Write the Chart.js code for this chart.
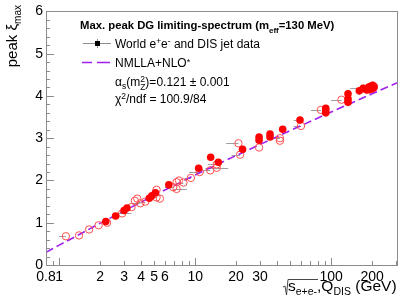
<!DOCTYPE html>
<html><head><meta charset="utf-8">
<script src="https://cdn.jsdelivr.net/npm/chart.js@4/dist/chart.umd.min.js"></script>
<style>html,body{margin:0;padding:0;background:#fff}canvas{display:block}</style>
</head><body>
<canvas id="c" width="409" height="300" style="width:409px;height:300px"></canvas>
<script>
// ---- data ----
const xTickLabels = [0.8, 1, 2, 3, 4, 5, 6, 10, 20, 30, 100, 200];
const yTickValues = [0, 1, 2, 3, 4, 5, 6];

// NMLLA+NLO* fit curve
const fitX = [0.8, 1, 1.5, 2, 3, 5, 10, 20, 50, 100, 200, 310];
const fitY = [0.30, 0.47, 0.77, 0.99, 1.28, 1.65, 2.13, 2.59, 3.18, 3.62, 4.05, 4.32];

// e+e- data (filled)
const eeX   = [2.2, 2.6, 3.0, 3.15, 4.6, 4.8, 5.1, 6.4, 10.6, 13.0, 14.8, 22.3, 29.5, 29.5, 35.5, 35.5, 44, 59, 91.2, 91.2, 91.2, 133, 133, 133, 161, 172, 183, 189, 192, 196, 200, 202, 205, 207];
const eeY   = [1.03, 1.16, 1.29, 1.35, 1.58, 1.64, 1.71, 1.90, 2.29, 2.55, 2.43, 2.74, 3.03, 2.95, 3.10, 3.03, 3.21, 3.43, 3.71, 3.65, 3.60, 4.05, 3.93, 3.85, 4.12, 4.18, 4.14, 4.21, 4.15, 4.23, 4.17, 4.25, 4.19, 4.22];
const eeYerr= [0.04, 0.04, 0.04, 0.04, 0.05, 0.05, 0.05, 0.05, 0.06, 0.06, 0.06, 0.07, 0.07, 0.07, 0.07, 0.07, 0.08, 0.08, 0.06, 0.06, 0.06, 0.1, 0.1, 0.1, 0.1, 0.1, 0.1, 0.1, 0.1, 0.1, 0.1, 0.1, 0.1, 0.1];
const eeXlo = [2.2, 2.6, 3.0, 3.15, 4.6, 4.8, 5.1, 6.4, 10.6, 13.0, 14.8, 22.3, 29.5, 29.5, 35.5, 35.5, 44, 53, 91.2, 91.2, 91.2, 133, 133, 133, 161, 138, 183, 189, 192, 196, 200, 202, 205, 207];

// DIS data (open)
const disX  = [1.12, 1.40, 1.66, 1.95, 2.25, 2.9, 3.4, 3.6, 3.75, 3.95, 4.3, 5.2, 5.2, 5.5, 6.9, 7.3, 7.3, 7.6, 8.2, 9.3, 10.8, 12.9, 14.4, 14.4, 20.8, 21.4, 29.5, 42, 42, 60, 84, 119];
const disY  = [0.68, 0.70, 0.84, 0.94, 1.00, 1.22, 1.37, 1.52, 1.57, 1.46, 1.50, 1.78, 1.60, 1.57, 1.84, 1.96, 1.80, 2.00, 1.95, 2.06, 2.20, 2.24, 2.38, 2.30, 2.88, 2.61, 2.78, 3.00, 2.94, 3.29, 3.67, 3.91];
const disXlo= [1.0, 1.40, 1.66, 1.95, 2.25, 2.5, 3.0, 3.6, 3.75, 3.4, 3.7, 5.2, 4.5, 5.5, 6.0, 7.3, 6.9, 7.6, 7.2, 8.4, 9.0, 11.0, 12.4, 11.9, 16.9, 18.5, 29.5, 37, 42, 53, 71, 100];
const disXhi= [1.12, 1.40, 1.66, 1.95, 2.25, 3.4, 3.4, 3.6, 3.75, 3.95, 4.3, 5.2, 5.2, 5.5, 6.9, 7.3, 8.7, 7.6, 8.2, 9.3, 10.8, 12.9, 14.4, 17.5, 20.8, 21.4, 29.5, 42, 42, 60, 84, 119];

const FONT = "'Liberation Sans', Arial, Helvetica, sans-serif";
const FIT_COLOR = '#a020f0';

function richText(ctx, segs, x, y, align) {
  let w = 0;
  segs.forEach(s => { ctx.font = (s.b ? 'bold ' : '') + s.s + 'px ' + FONT; s.w = ctx.measureText(s.t).width; if (s.adv !== false) w += s.w; });
  let cx = align === 'right' ? x - w : x;
  ctx.textAlign = 'left';
  ctx.textBaseline = 'alphabetic';
  segs.forEach(s => {
    ctx.font = (s.b ? 'bold ' : '') + s.s + 'px ' + FONT;
    ctx.fillText(s.t, cx, y + (s.dy || 0));
    if (s.adv !== false) cx += s.w;
  });
  return w;
}

const decor = {
  id: 'decor',
  beforeDatasetsDraw(chart) {
    const ctx = chart.ctx, xs = chart.scales.x, ys = chart.scales.y;
    ctx.save();
    ctx.strokeStyle = '#a0a0a0';
    ctx.lineWidth = 1;
    ctx.beginPath();
    eeX.forEach((x, i) => {
      const px = xs.getPixelForValue(x);
      ctx.moveTo(px, ys.getPixelForValue(eeY[i] - eeYerr[i]));
      ctx.lineTo(px, ys.getPixelForValue(eeY[i] + eeYerr[i]));
      if (eeXlo[i] < x) {
        const py = Math.round(ys.getPixelForValue(eeY[i])) + 0.5;
        ctx.moveTo(xs.getPixelForValue(eeXlo[i]), py);
        ctx.lineTo(px, py);
      }
    });
    disX.forEach((x, i) => {
      const py = Math.round(ys.getPixelForValue(disY[i])) + 0.5;
      if (disXlo[i] < disXhi[i]) {
        ctx.moveTo(xs.getPixelForValue(disXlo[i]), py);
        ctx.lineTo(xs.getPixelForValue(disXhi[i]), py);
      }
    });
    ctx.stroke();
    ctx.restore();
  },
  afterDraw(chart) {
    const ctx = chart.ctx, a = chart.chartArea, xs = chart.scales.x, ys = chart.scales.y;
    ctx.save();
    // frame
    ctx.strokeStyle = '#8c8c8c';
    ctx.lineWidth = 1;
    ctx.strokeRect(Math.round(a.left) + 0.5, Math.round(a.top) + 0.5, Math.round(a.right - a.left) - 1, Math.round(a.bottom - a.top));
    // y ticks (inward)
    ctx.beginPath();
    for (let v = 0; v <= 6.001; v += 0.2) {
      const py = Math.round(ys.getPixelForValue(v)) + 0.5;
      const major = Math.abs(v - Math.round(v)) < 1e-6;
      ctx.moveTo(a.left, py);
      ctx.lineTo(a.left + (major ? 8 : 4), py);
    }
    // x ticks (inward)
    [0.1, 1, 10, 100].forEach(d => {
      for (let k = 1; k <= 9; k++) {
        const v = d * k;
        if (v < xs.min || v > xs.max * 0.98) continue;
        const px = Math.round(xs.getPixelForValue(v)) + 0.5;
        const major = k === 1;
        ctx.moveTo(px, a.bottom);
        ctx.lineTo(px, a.bottom - (major ? 7 : 4));
      }
    });
    ctx.stroke();

    ctx.fillStyle = '#000';
    // header
    richText(ctx, [
      {t: 'Max. peak DG limiting-spectrum (m', s: 11.3, b: true},
      {t: 'eff', s: 8, b: true, dy: 4},
      {t: '=130 MeV)', s: 11.3, b: true}
    ], 80, 29, 'left');
    // legend entry 1 marker
    ctx.strokeStyle = '#909090';
    ctx.beginPath();
    ctx.moveTo(83, 43.5); ctx.lineTo(111, 43.5);
    ctx.moveTo(97.5, 39); ctx.lineTo(97.5, 48);
    ctx.stroke();
    ctx.fillStyle = '#000';
    ctx.fillRect(95, 41, 5, 5);
    richText(ctx, [
      {t: 'World e', s: 12}, {t: '+', s: 8.5, dy: -4}, {t: 'e', s: 12}, {t: '-', s: 8.5, dy: -4},
      {t: ' and DIS jet data', s: 12}
    ], 115, 47.5, 'left');
    // legend entry 2 marker
    ctx.strokeStyle = FIT_COLOR;
    ctx.lineWidth = 1.6;
    ctx.beginPath();
    ctx.moveTo(82, 62.5); ctx.lineTo(92, 62.5);
    ctx.moveTo(97, 62.5); ctx.lineTo(110, 62.5);
    ctx.stroke();
    richText(ctx, [{t: 'NMLLA+NLO', s: 12}, {t: '*', s: 9, dy: -2}], 115, 66.5, 'left');
    richText(ctx, [
      {t: 'α', s: 12}, {t: 's', s: 8.5, dy: 3}, {t: '(m', s: 12},
      {t: '2', s: 8.5, dy: -4, adv: false}, {t: 'Z', s: 8.5, dy: 4},
      {t: ')=0.121 ± 0.001', s: 12}
    ], 115, 85.5, 'left');
    richText(ctx, [{t: 'χ', s: 12}, {t: '2', s: 8.5, dy: -4}, {t: '/ndf = 100.9/84', s: 12}], 115, 102.5, 'left');

    // y title (rotated)
    ctx.save();
    ctx.translate(17, 5);
    ctx.rotate(-Math.PI / 2);
    richText(ctx, [{t: 'peak ξ', s: 15}, {t: 'max', s: 10, dy: 4}], 0, 0, 'right');
    ctx.restore();

    // x title
    const x0 = 283, base = 291;
    const w1 = richText(ctx, [{t: 's', s: 15.5}, {t: 'e+e-', s: 10.5, dy: 4}], x0 + 5, base, 'left');
    ctx.strokeStyle = '#333';
    ctx.lineWidth = 0.9;
    ctx.beginPath();
    ctx.moveTo(x0, 287); ctx.lineTo(x0 + 2, 286); ctx.lineTo(x0 + 3.5, 295); ctx.lineTo(x0 + 5, 279.5); ctx.lineTo(x0 + 5 + w1 + 1, 279.5);
    ctx.stroke();
    richText(ctx, [{t: ',Q', s: 15.5}, {t: 'DIS', s: 10.5, dy: 4}, {t: ' (GeV)', s: 15.5}], x0 + 5 + w1, base, 'left');
    ctx.restore();
  }
};

new Chart(document.getElementById('c'), {
  data: {
    datasets: [
      {
        type: 'line',
        data: fitX.map((x, i) => ({x: x, y: fitY[i]})),
        borderColor: FIT_COLOR, borderWidth: 1.6, borderDash: [8, 4],
        pointRadius: 0, fill: false, tension: 0, order: 3
      },
      {
        type: 'scatter',
        data: disX.map((x, i) => ({x: x, y: disY[i]})),
        pointRadius: 3.7, backgroundColor: 'rgba(255,255,255,0)',
        borderColor: '#ff4f4f', borderWidth: 1, order: 2
      },
      {
        type: 'scatter',
        data: eeX.map((x, i) => ({x: x, y: eeY[i]})),
        pointRadius: 3.8, backgroundColor: '#ff0000', borderWidth: 0, order: 1
      }
    ]
  },
  options: {
    responsive: false, animation: false,
    layout: {padding: {top: 10, right: 11, left: 0, bottom: 0}},
    plugins: {legend: {display: false}, tooltip: {enabled: false}},
    scales: {
      x: {
        type: 'logarithmic', min: 0.8, max: 310,
        afterBuildTicks: s => { s.ticks = xTickLabels.map(v => ({value: v})); },
        afterFit: s => { s.height = 35; },
        ticks: {autoSkip: false, maxRotation: 0, minRotation: 0, padding: 4, color: '#000',
                font: {size: 14, family: FONT}, callback: v => String(v)},
        grid: {display: false, drawTicks: false},
        border: {display: false}
      },
      y: {
        min: 0, max: 6,
        afterBuildTicks: s => { s.ticks = yTickValues.map(v => ({value: v})); },
        afterFit: s => { s.width = 46; },
        ticks: {padding: 3, color: '#000', font: {size: 14, family: FONT}},
        grid: {display: false, drawTicks: false},
        border: {display: false}
      }
    }
  },
  plugins: [decor]
});
</script>
</body></html>
